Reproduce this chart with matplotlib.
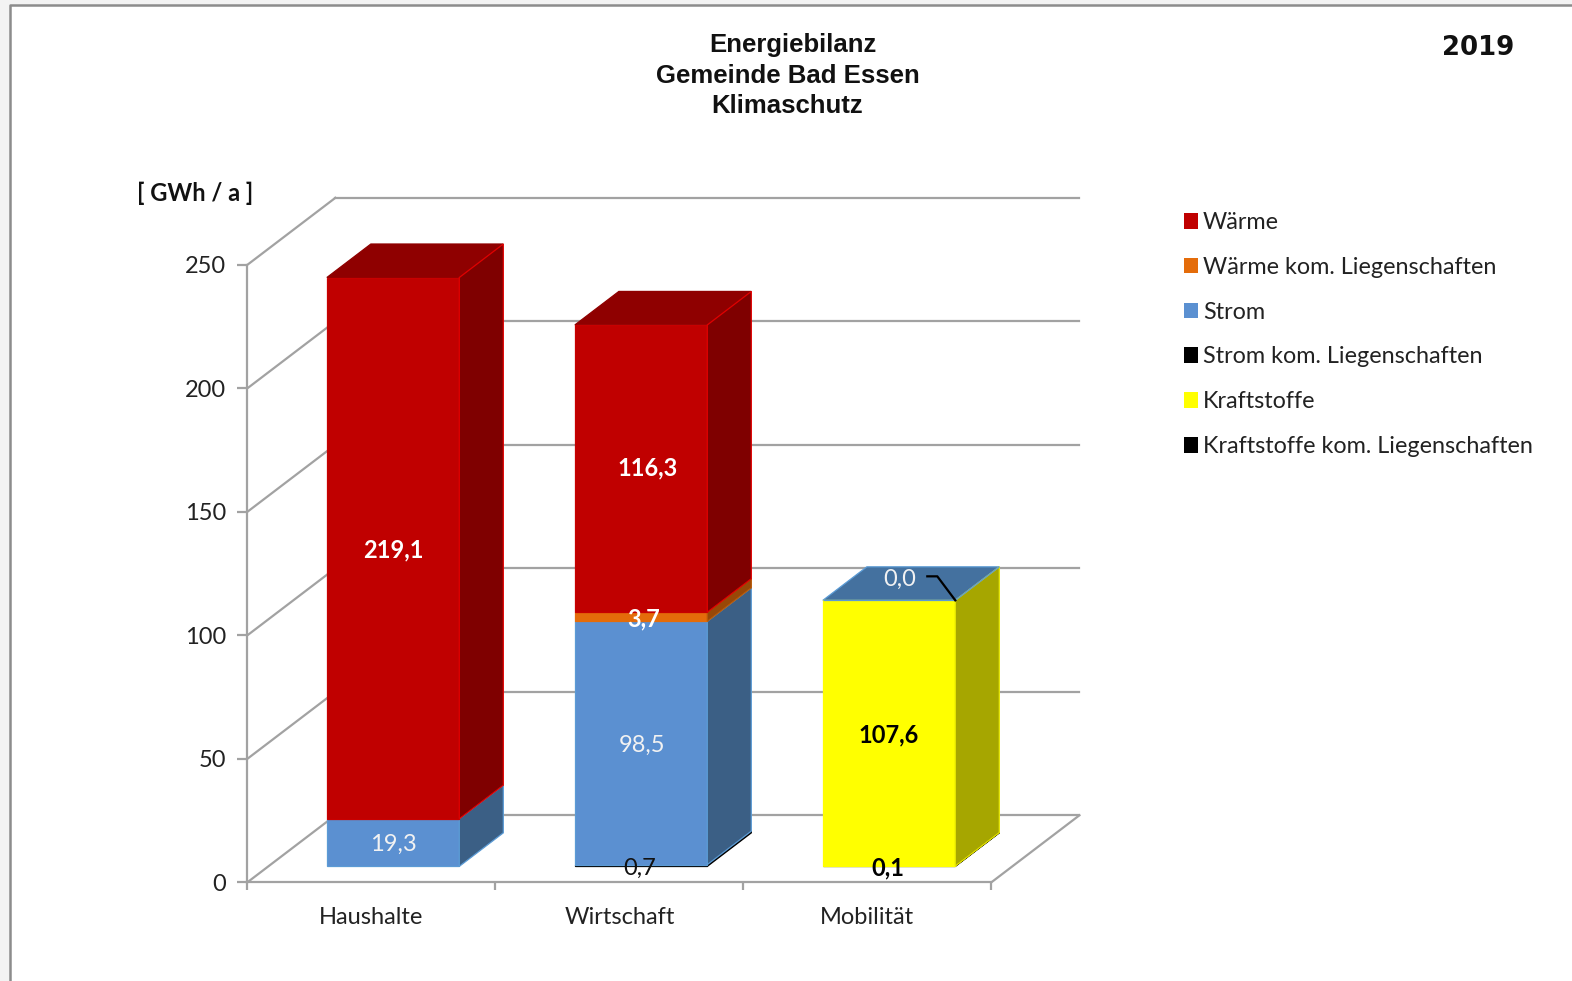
import matplotlib
matplotlib.use("Agg")
import matplotlib.pyplot as plt
from matplotlib.patches import Polygon, Patch, Rectangle
from matplotlib.lines import Line2D

# ---------- data ----------
categories = ["Haushalte", "Wirtschaft", "Mobilität"]
nan = None
kraftstoffe_kom = [nan, nan, 0.1]
kraftstoffe = [nan, nan, 107.6]
strom_kom = [nan, 0.7, nan]
strom = [19.3, 98.5, 0.0]
waerme_kom = [nan, 3.7, nan]
waerme = [219.1, 116.3, nan]
y_ticks = [0, 50, 100, 150, 200, 250]
title_lines = ["Energiebilanz", "Gemeinde Bad Essen", "Klimaschutz"]
year_label = "2019"
unit_label = "[ GWh / a ]"

# ---------- styles: name, values, front, side, top, front edge, side edge, top edge ----------
stack = [
    ("Kraftstoffe kom. Liegenschaften", kraftstoffe_kom, "#000000", "#000000", "#000000", "#000000", "#000000", "#000000"),
    ("Kraftstoffe", kraftstoffe, "#FFFF00", "#A6A600", "#A6A600", "#FFFF00", "#E6E600", "#E6E600"),
    ("Strom kom. Liegenschaften", strom_kom, "#000000", "#000000", "#000000", "#000000", "#000000", "#000000"),
    ("Strom", strom, "#5B90D1", "#3B5F85", "#44719F", "#5B9BD5", "#5B9BD5", "#5B9BD5"),
    ("Wärme kom. Liegenschaften", waerme_kom, "#E46C0A", "#984807", "#984807", "#E46C0A", "#B85A08", "#E46C0A"),
    ("Wärme", waerme, "#C00000", "#7F0000", "#8F0000", "#C80000", "#E00000", "#8F0000"),
]
# (colour, weight, x offset px, y offset px) per (series, category)
label_style = {
    ("Wärme", 0): ("white", "bold", 0, 0),
    ("Strom", 0): ("#F2F2F2", "normal", 0, 0),
    ("Wärme", 1): ("white", "bold", 7, 3),
    ("Wärme kom. Liegenschaften", 1): ("white", "bold", 3, 0),
    ("Strom", 1): ("#F2F2F2", "normal", 1, 0),
    ("Strom kom. Liegenschaften", 1): ("#111111", "normal", -1, -1),
    ("Kraftstoffe", 2): ("black", "bold", 0, 0),
    ("Kraftstoffe kom. Liegenschaften", 2): ("black", "bold", -1, 0),
    ("Strom", 2): ("#F2F2F2", "normal", 11, 23),
}

W, H = 1572, 981
GRID = "#A2A2A2"
FONT = "Lato"
TXT = "#222222"

fig = plt.figure(figsize=(W / 100, H / 100), dpi=100, facecolor="#F3F3F3")
fx = lambda x: x / W
fy = lambda y: 1 - y / H

# window frame
fig.add_artist(Rectangle((fx(9.5), 0), 1 - fx(9.5), fy(5), transform=fig.transFigure,
                         facecolor="white", edgecolor="none", zorder=-2))
fig.add_artist(Line2D([fx(9.5), fx(9.5), 1], [0, fy(5), fy(5)], transform=fig.transFigure,
                      color="#8C8C8C", lw=1.8, zorder=-1))

ax_l, ax_r, ax_t, ax_b = 247.4, 991.4, 264.8, 882.3
ax = fig.add_axes([fx(ax_l), fy(ax_b), fx(ax_r - ax_l), fy(ax_t) - fy(ax_b)], facecolor="none")
ax.set_xlim(0, len(categories))
ax.set_ylim(0, y_ticks[-1])

# oblique depth
KX = 88 / ((ax_r - ax_l) / len(categories))
KY = 67 / ((ax_b - ax_t) / y_ticks[-1])
D0, D1 = 0.238, 0.738
BAR_W, BAR_C = 0.534, 0.503


def P(x, y, d):
    return (x + d * KX, y + d * KY)


# walls / grid
glw = 1.6
for t in y_ticks:
    ax.plot(*zip(P(0, t, 0), P(0, t, 1)), color=GRID, lw=glw, clip_on=False, zorder=1)
    ax.plot(*zip(P(0, t, 1), P(len(categories), t, 1)), color=GRID, lw=glw, clip_on=False, zorder=1)
ax.plot(*zip(P(len(categories), 0, 0), P(len(categories), 0, 1)), color=GRID, lw=glw, clip_on=False, zorder=1)

# bars
z = 5
tops = {}
elw = 0.9
for name, values, front, side, top, e_front, e_side, e_top in stack:
    for i, v in enumerate(values):
        if v is None:
            continue
        base = tops.get(i, (0, None))[0]
        xl = i + BAR_C - BAR_W / 2
        xr = xl + BAR_W
        y0, y1 = base, base + v
        ax.add_patch(Polygon([P(xl, y0, D0), P(xr, y0, D0), P(xr, y1, D0), P(xl, y1, D0)],
                             facecolor=front, edgecolor=e_front, lw=elw, clip_on=False, zorder=z))
        ax.add_patch(Polygon([P(xr, y0, D0), P(xr, y0, D1), P(xr, y1, D1), P(xr, y1, D0)],
                             facecolor=side, edgecolor=e_side, lw=elw, clip_on=False, zorder=z))
        tops[i] = (y1, (top, e_top))
        z += 1
for i, (y, (top, e_top)) in tops.items():
    xl = i + BAR_C - BAR_W / 2
    xr = xl + BAR_W
    ax.add_patch(Polygon([P(xl, y, D0), P(xr, y, D0), P(xr, y, D1), P(xl, y, D1)],
                         facecolor=top, edgecolor=e_top, lw=elw, clip_on=False, zorder=3))

# value labels
lab_size = 17
cum = {}
for name, values, *_ in stack:
    for i, v in enumerate(values):
        if v is None:
            continue
        base = cum.get(i, 0)
        cum[i] = base + v
        col, wt, ox, oy = label_style[(name, i)]
        ax.annotate(f"{v:.1f}".replace(".", ","),
                    xy=P(i + BAR_C, base + v / 2, D0), xytext=(ox, oy),
                    textcoords="offset pixels", ha="center", va="center_baseline",
                    color=col, fontweight=wt, fontsize=lab_size, family=FONT,
                    zorder=50, annotation_clip=False)

# leader line of the zero label on Mobilität
anchor = P(2 + BAR_C + BAR_W / 2, cum[2], D0)
px, py = ax.transData.transform(anchor)
ax.add_line(Line2D([px, px - 18, px - 28], [py, py + 24, py + 24], transform=None,
                   color="black", lw=1.6, zorder=51, clip_on=False))

# axes furniture
for s in ("top", "right"):
    ax.spines[s].set_visible(False)
for s in ("left", "bottom"):
    ax.spines[s].set_color(GRID)
    ax.spines[s].set_linewidth(glw)
    ax.spines[s].set_zorder(2)
ax.set_yticks(y_ticks)
ax.set_xticks(range(len(categories) + 1))
ax.set_xticklabels([])
ax.set_xticks([i + 0.5 for i in range(len(categories))], minor=True)
ax.set_xticklabels(categories, minor=True, fontsize=lab_size, family=FONT, color=TXT)
ax.tick_params(axis="x", which="major", length=6, width=glw, color=GRID)
ax.tick_params(axis="x", which="minor", length=0, pad=17.6)
ax.tick_params(axis="y", length=7.5, width=glw, color=GRID, labelsize=lab_size, pad=8, labelcolor=TXT)
for t in ax.get_yticklabels():
    t.set_family(FONT)

# titles
title_pos = [(793, 45), (787.5, 76), (787, 106)]
for s, (x, y) in zip(title_lines, title_pos):
    fig.text(fx(x), fy(y), s, ha="center", va="center", family="Liberation Sans",
             fontweight="bold", fontsize=18.5, color="#111111")
fig.text(fx(1478), fy(48), year_label, ha="center", va="center", family="DejaVu Sans",
         fontweight="bold", fontsize=18.7, color="#111111")
fig.text(fx(195.5), fy(193.5), unit_label, ha="center", va="center", family=FONT,
         fontweight="bold", fontsize=17, color="#111111")

# legend
order = ["Wärme", "Wärme kom. Liegenschaften", "Strom", "Strom kom. Liegenschaften",
         "Kraftstoffe", "Kraftstoffe kom. Liegenschaften"]
info = {s[0]: s[2] for s in stack}
handles = [Patch(facecolor=info[n], edgecolor="none", label=n) for n in order]
fs = 16.8
fig.legend(handles=handles, loc="upper left", bbox_to_anchor=(fx(1183.5), fy(212)),
           bbox_transform=fig.transFigure, frameon=False, prop={"family": FONT, "size": fs},
           handlelength=0.64, handleheight=0.64, handletextpad=0.2, labelspacing=1.02,
           borderpad=0, borderaxespad=0, labelcolor=TXT)

fig.savefig("out.png", dpi=100, facecolor=fig.get_facecolor())
